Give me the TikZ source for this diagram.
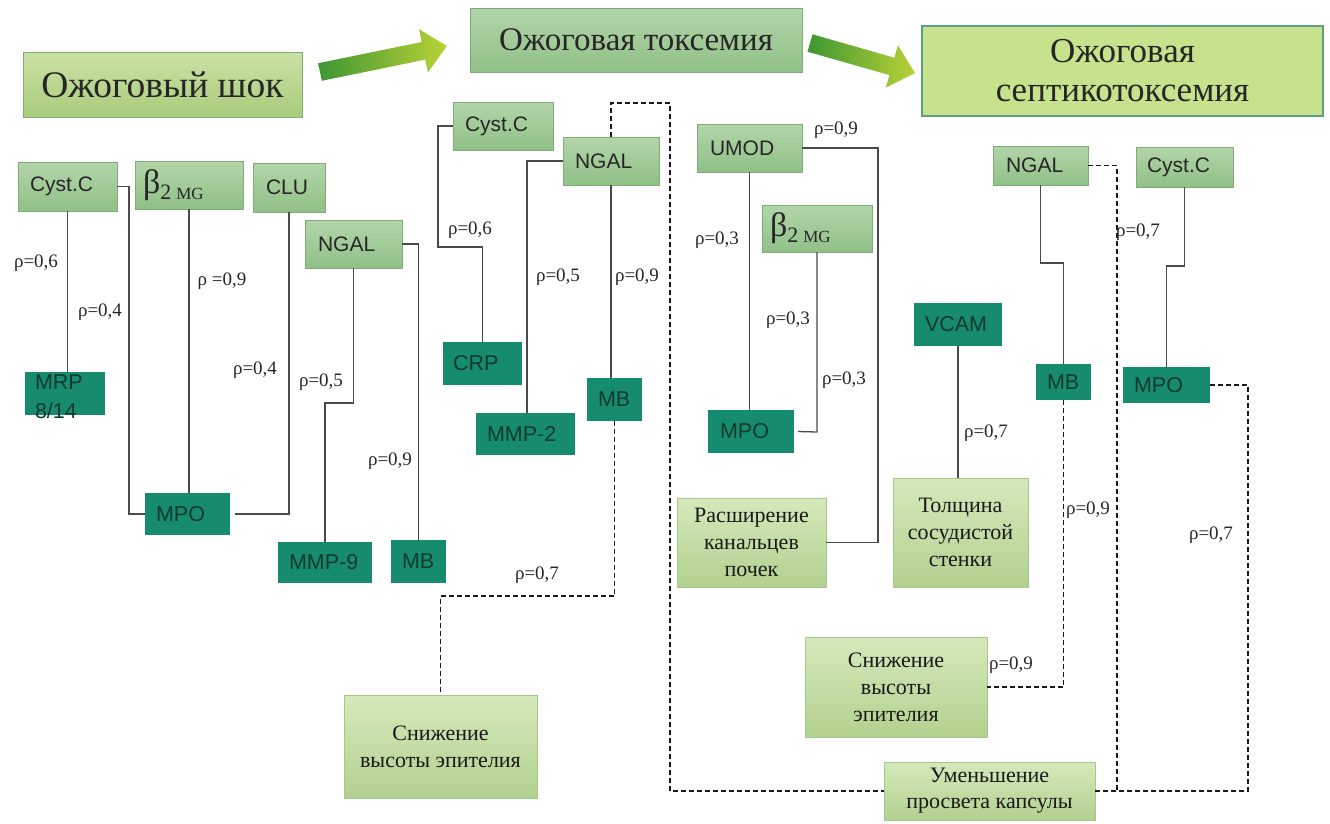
\documentclass[tikz,border=0pt]{standalone}
\usepackage{fontspec}
\setmainfont{Liberation Serif}
\setsansfont{Liberation Sans}
\definecolor{midtop}{HTML}{B3D5A9}
\definecolor{midbot}{HTML}{90C087}
\definecolor{midline}{HTML}{7FAD77}
\definecolor{tealc}{HTML}{178B6E}
\definecolor{tealtext}{HTML}{103A2E}
\definecolor{litetop}{HTML}{D5E9BB}
\definecolor{litebot}{HTML}{B2D08F}
\definecolor{liteline}{HTML}{A6C88A}
\definecolor{shocktop}{HTML}{CAE2A5}
\definecolor{shockbot}{HTML}{A9CB7B}
\definecolor{septfill}{HTML}{C6E28D}
\definecolor{septline}{HTML}{5E9E84}
\definecolor{arrdark}{HTML}{3E9633}
\definecolor{arrlight}{HTML}{B9D237}
\definecolor{conncol}{HTML}{4A4A4A}
\newcommand{\betaMG}{{\fontsize{34}{34}\selectfont β}{\fontsize{22}{22}\selectfont\raisebox{-6pt}{2}}\hspace{5pt}{\fontsize{17}{17}\selectfont\raisebox{-6pt}{MG}}}
\begin{document}
\begin{tikzpicture}[x=1pt,y=-1pt,
  box/.style={rectangle, inner sep=0pt, outer sep=0pt},
  mid/.style={box, draw=midline, line width=0.9pt, top color=midtop, bottom color=midbot,
    font=\sffamily\fontsize{21}{23}\selectfont, text=black!85, align=left},
  tealbox/.style={box, fill=tealc, text=tealtext, font=\sffamily\fontsize{21.5}{29}\selectfont, align=left},
  lite/.style={box, draw=liteline, line width=0.9pt, top color=litetop, bottom color=litebot,
    font=\fontsize{22}{27}\selectfont, text=black!90, align=center},
  rho/.style={inner sep=0pt, font=\fontsize{19}{19}\selectfont, text=black!85},
  conn/.style={draw=conncol, line width=1.3pt},
  dconn/.style={draw=black!90, line width=1.2pt, dash pattern=on 5pt off 3pt},
  betafont/.style={font=\rmfamily}
]
\useasboundingbox (0,0) rectangle (1330,823);

% ---- stage titles ----
\node[box, draw=midline, line width=1pt, top color=shocktop, bottom color=shockbot,
  minimum width=279pt, minimum height=65pt, font=\fontsize{37.5}{40}\selectfont, text=black!85]
  (shock) at (162.5,84.5) {Ожоговый шок};
\node[box, draw=midline, line width=1pt, top color=midtop, bottom color=midbot,
  minimum width=332pt, minimum height=64pt, font=\fontsize{33}{36}\selectfont, text=black!85]
  (tox) at (636,40) {Ожоговая токсемия};
\node[box, draw=septline, line width=1.5pt, fill=septfill,
  minimum width=401pt, minimum height=90pt, font=\fontsize{35}{39}\selectfont, text=black!85, align=center]
  (sept) at (1122.5,71) {Ожоговая\\септикотоксемия};

% ---- stage arrows ----
\shade[left color=arrdark, right color=arrlight]
  (321.8,80.8) -- (425.3,59.6) -- (427.9,72.4) -- (447,46) -- (419.1,29.2) -- (421.7,42.0) -- (318.2,63.2) -- cycle;
\shade[left color=arrdark, right color=arrlight]
  (807.5,51.7) -- (889.4,75.1) -- (885.9,87.6) -- (915,73) -- (897.9,45.2) -- (894.4,57.7) -- (812.5,34.3) -- cycle;

% ---- left group (shock) ----
\node[mid, minimum width=99pt, minimum height=49pt, text width=75pt] (cys1) at (67.5,186.5) {Cyst.C};
\node[mid, betafont, minimum width=108pt, minimum height=48pt, text width=92pt] (b2a) at (189,185) {\betaMG};
\node[mid, minimum width=72pt, minimum height=49pt, text width=46pt] (clu) at (289,187.5) {CLU};
\node[mid, minimum width=97pt, minimum height=48pt, text width=71pt] (ngal1) at (353.5,244) {NGAL};
\node[tealbox, minimum width=80pt, text width=60pt, text height=18pt, text depth=25pt] (mrp) at (65,393) {MRP\\8/14};
\node[tealbox, minimum width=85pt, minimum height=42pt, text width=63pt] (mpo1) at (187.5,514) {MPO};
\node[tealbox, minimum width=94pt, minimum height=41pt, text width=72pt] (mmp9) at (325,562.5) {MMP-9};
\node[tealbox, minimum width=55pt, minimum height=43pt, text width=33pt] (mb1) at (418.5,561.5) {MB};

\draw[conn] (cys1.south) -- (cys1.south |- mrp.north);
\draw[conn] (cys1.east) -- ++(12,0) |- (mpo1.west);
\draw[conn] (b2a.south) -- (b2a.south |- mpo1.north);
\draw[conn] (clu.south) |- ([xshift=5pt]mpo1.east);
\draw[conn] (ngal1.south) -- ++(0,135) -| (mmp9.north);
\draw[conn] (ngal1.east) -| (mb1.north);

\node[rho] (r1) at (36,263) {ρ=0,6};
\node[rho] (r2) at (100,312) {ρ=0,4};
\node[rho] (r3) at (222,281) {ρ =0,9};
\node[rho] (r4) at (255,370) {ρ=0,4};
\node[rho] (r5) at (321,382) {ρ=0,5};
\node[rho] (r6) at (390,461) {ρ=0,9};

% ---- middle group (toxemia) ----
\node[mid, minimum width=100pt, minimum height=48pt, text width=76pt] (cys2) at (503,126) {Cyst.C};
\node[mid, minimum width=96pt, minimum height=48pt, text width=72pt] (ngal2) at (611,161) {NGAL};
\node[tealbox, minimum width=79pt, minimum height=43pt, text width=59pt] (crp) at (482.5,363.5) {CRP};
\node[tealbox, minimum width=99pt, minimum height=42pt, text width=77pt] (mmp2) at (525.5,434) {MMP-2};
\node[tealbox, minimum width=55pt, minimum height=43pt, text width=33pt] (mb2) at (614.5,399.5) {MB};
\node[lite, minimum width=193pt, minimum height=103pt] (sniz1) at (440.5,746.5) {Снижение\\высоты эпителия};

\draw[conn] (cys2.west) -- ++(-15,0) -- ++(0,121) -| (crp.north);
\draw[conn] (ngal2.west) -| ([xshift=1.5pt]mmp2.north);
\draw[conn] (ngal2.south) -- (ngal2.south |- mb2.north);
\draw[dconn] (mb2.south) -- ++(0,175) -| (sniz1.north);

\node[rho] (r7) at (470,230) {ρ=0,6};
\node[rho] (r8) at (558,277) {ρ=0,5};
\node[rho] (r9) at (637,277) {ρ=0,9};
\node[rho] (r10) at (537,575) {ρ=0,7};

% ---- UMOD group ----
\node[mid, minimum width=105pt, minimum height=48pt, text width=79pt] (umod) at (749.5,148) {UMOD};
\node[mid, betafont, minimum width=110pt, minimum height=47pt, text width=94pt] (b2b) at (817,228.5) {\betaMG};
\node[tealbox, minimum width=86pt, minimum height=43pt, text width=62pt] (mpo2) at (751,431.5) {MPO};
\node[lite, minimum width=149pt, minimum height=89pt] (rassh) at (751.5,542.5) {Расширение\\канальцев\\почек};
\node[tealbox, minimum width=88pt, minimum height=43pt, text width=66pt] (vcam) at (958,324.5) {VCAM};
\node[lite, minimum width=135pt, minimum height=109pt] (tol) at (960.5,532.5) {Толщина\\сосудистой\\стенки};

\draw[conn] (umod.east) -- ++(76,0) |- (rassh.east);
\draw[conn] (umod.south) -- (umod.south |- mpo2.north);
\draw[conn] (b2b.south) -- ++(0,180) -- ([xshift=4pt]mpo2.east);
\draw[conn] (vcam.south) -- (vcam.south |- tol.north);

\node[rho] (r11) at (836,130) {ρ=0,9};
\node[rho] (r12) at (717,240) {ρ=0,3};
\node[rho] (r13) at (788,320) {ρ=0,3};
\node[rho] (r14) at (844,380) {ρ=0,3};
\node[rho] (r15) at (986,433) {ρ=0,7};

% ---- right group (septicotoxemia) ----
\node[mid, minimum width=95pt, minimum height=39pt, text width=69pt] (ngal3) at (1040.5,165.5) {NGAL};
\node[mid, minimum width=97pt, minimum height=40pt, text width=75pt] (cys3) at (1184.5,167) {Cyst.C};
\node[tealbox, minimum width=55pt, minimum height=36pt, text width=33pt] (mb3) at (1063.5,382) {MB};
\node[tealbox, minimum width=87pt, minimum height=36pt, text width=65pt] (mpo3) at (1166.5,385) {MPO};
\node[lite, minimum width=182pt, minimum height=100pt] (sniz2) at (896,687) {Снижение\\высоты\\эпителия};
\node[lite, minimum width=211pt, minimum height=58pt, font=\fontsize{22}{26}\selectfont] (umen) at (989.5,791) {Уменьшение\\просвета капсулы};

\coordinate (d1) at (670,791);
\coordinate (d2) at (1117,791);
\coordinate (d3) at (1248,791);

\draw[conn] (ngal3.south) -- ++(0,78) -| (mb3.north);
\draw[conn] (cys3.south) -- ++(0,79) -| (mpo3.north);
\draw[dconn] (ngal2.north) -- ++(0,-34) -| (d1) -- (umen.west);
\draw[dconn] (ngal3.east) -| (d2) -- (umen.east);
\draw[dconn] (mpo3.east) -| (d3) -- (umen.east);
\draw[dconn] (mb3.south) |- (sniz2.east);

\node[rho] (r16) at (1138,232) {ρ=0,7};
\node[rho] (r17) at (1088,510) {ρ=0,9};
\node[rho] (r18) at (1011,665) {ρ=0,9};
\node[rho] (r19) at (1211,535) {ρ=0,7};
\end{tikzpicture}
\end{document}
